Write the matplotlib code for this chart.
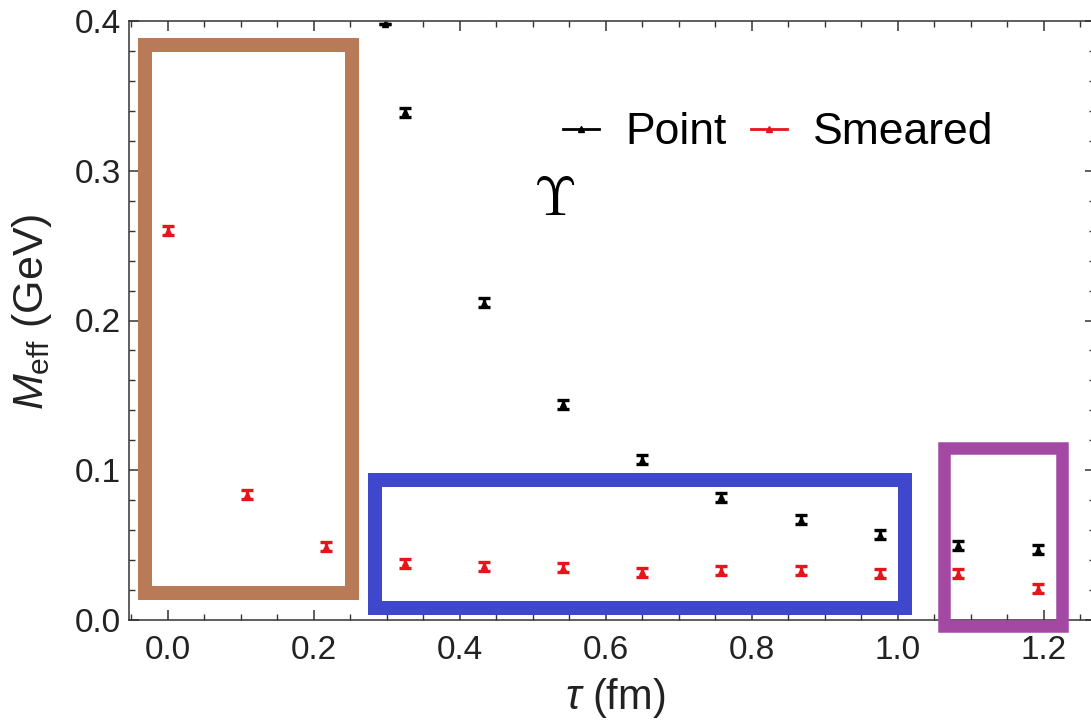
import matplotlib
matplotlib.use("Agg")
import matplotlib.pyplot as plt
from matplotlib.patches import Rectangle
from matplotlib.lines import Line2D
from matplotlib.ticker import MultipleLocator

# ---- data ----
tau_smeared = [0.0, 0.108, 0.217, 0.325, 0.433, 0.542, 0.650, 0.758, 0.867, 0.975, 1.083, 1.192]
m_smeared = [0.260, 0.0835, 0.049, 0.038, 0.036, 0.035, 0.032, 0.033, 0.033, 0.031, 0.031, 0.021]
err_smeared = [0.003, 0.003, 0.003, 0.003, 0.003, 0.003, 0.003, 0.003, 0.003, 0.003, 0.003, 0.003]

tau_point = [0.297, 0.325, 0.433, 0.542, 0.650, 0.758, 0.867, 0.975, 1.083, 1.192]
m_point = [0.398, 0.339, 0.212, 0.144, 0.107, 0.082, 0.067, 0.057, 0.050, 0.047]
err_point = [0.0, 0.003, 0.003, 0.003, 0.003, 0.003, 0.003, 0.003, 0.003, 0.003]

x_ticks = [0.0, 0.2, 0.4, 0.6, 0.8, 1.0, 1.2]
y_ticks = [0.0, 0.1, 0.2, 0.3, 0.4]
legend_labels = ["Point", "Smeared"]

W, H = 1091, 728
plt.rcParams['font.family'] = ['Liberation Sans', 'DejaVu Sans']
plt.rcParams['mathtext.fontset'] = 'custom'
plt.rcParams['mathtext.it'] = 'Liberation Sans:italic'
plt.rcParams['mathtext.rm'] = 'Liberation Sans'

fig = plt.figure(figsize=(W / 100, H / 100), dpi=100)
ax_l, ax_r, ax_t, ax_b = 129, 1095, 21, 620
ax = fig.add_axes([ax_l / W, 1 - ax_b / H, (ax_r - ax_l) / W, (ax_b - ax_t) / H])

ax.errorbar(tau_point, m_point, yerr=err_point, fmt='^', color='black', ms=4,
            elinewidth=2.4, capsize=4, capthick=2.4, clip_on=True)
ax.errorbar(tau_smeared, m_smeared, yerr=err_smeared, fmt='^', color='#e8141c', ms=4,
            elinewidth=2.4, capsize=4, capthick=2.4)

ax.set_xlim(-0.053, 1.27)
ax.set_ylim(0.0, 0.4)
ax.set_xticks(x_ticks)
ax.set_yticks(y_ticks)
ax.xaxis.set_minor_locator(MultipleLocator(0.05))
ax.yaxis.set_minor_locator(MultipleLocator(0.02))
ax.set_xticklabels([f"{v:.1f}" for v in x_ticks])
ax.set_yticklabels([f"{v:.1f}" for v in y_ticks])
ax.tick_params(which='both', direction='in', top=True, right=True, colors='#333333',
               labelcolor='#222222', labelsize=24)
ax.tick_params(which='major', length=7, width=1.1)
ax.tick_params(which='minor', length=4, width=1.0)
ax.tick_params(axis='x', pad=11)
ax.tick_params(axis='y', pad=6)
for s in ax.spines.values():
    s.set_color('#333333')
    s.set_linewidth(1.1)

ax.set_xlabel(r"$\it{\tau}$ (fm)", fontsize=30, color='#222222')
ax.xaxis.set_label_coords((615 - ax_l) / (ax_r - ax_l), (ax_b - 676) / (ax_b - ax_t))
ax.set_ylabel(r"$M_{\mathrm{eff}}$ (GeV)", fontsize=31, color='#222222')
ax.yaxis.set_label_coords((54 - ax_l) / (ax_r - ax_l), (ax_b - 312) / (ax_b - ax_t))

# Upsilon label
ax.text(0.529, 0.28, r"$\Upsilon$", math_fontfamily='cm', fontsize=40,
        ha='center', va='center', color='black')

# legend
handles = [Line2D([0], [0], color='black', lw=2, marker='^', ms=5),
           Line2D([0], [0], color='#e8141c', lw=2, marker='^', ms=5)]
ax.legend(handles, legend_labels, ncol=2, frameon=False, fontsize=32,
          loc='center left', borderpad=0, borderaxespad=0,
          bbox_to_anchor=((563 - ax_l) / (ax_r - ax_l), (ax_b - 133) / (ax_b - ax_t)),
          handlelength=0.8, handletextpad=0.6, columnspacing=0.55)

# highlight boxes (figure pixel coordinates: left, top, right, bottom of stroke centre)
boxes = [((145, 45, 352, 593), '#b97a57', 14),
         ((374.5, 480, 904.5, 608), '#3f48cc', 14),
         ((944, 447.5, 1061.5, 626), '#a349a4', 12.5)]
for (x0, y0, x1, y1), c, lw in boxes:
    r = Rectangle((x0 / W, 1 - y1 / H), (x1 - x0) / W, (y1 - y0) / H,
                  transform=fig.transFigure, fill=False, edgecolor=c,
                  linewidth=lw * 0.72, joinstyle='miter', clip_on=False)
    fig.add_artist(r)

fig.savefig("out.png", dpi=100)
